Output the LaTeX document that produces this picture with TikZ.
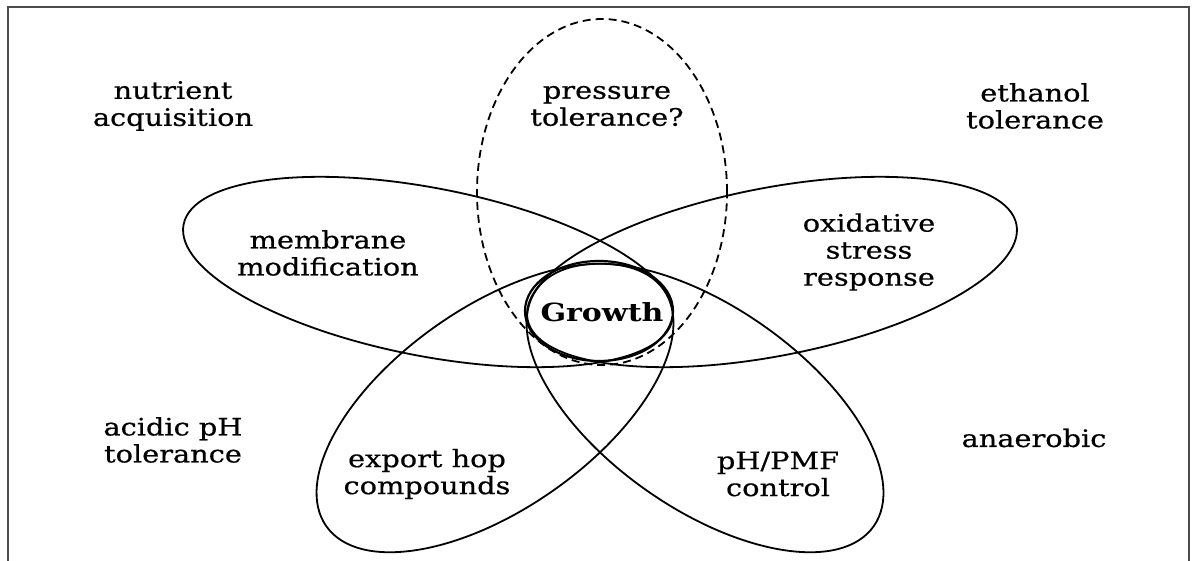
\documentclass[tikz,border=0pt]{standalone}
\usepackage{fontspec}
\setmainfont{DejaVu Serif}[FakeStretch=1.2]
\newfontfamily\lblfont{DejaVu Serif}[FakeStretch=1.2, FakeBold=0.5]
\usetikzlibrary{shapes.geometric}
\tikzset{
  petal/.style={ellipse, draw=black, line width=1.8pt, inner sep=0pt},
  lbl/.style={align=center, font=\lblfont\fontsize{24}{27}\selectfont, text=black},
}
\begin{document}
\begin{tikzpicture}[x=1pt,y=-1pt]
\useasboundingbox[fill=white] (0,0) rectangle (1196,561);
\draw[line width=1.5pt, black!70] (8,561) -- (8,7) -- (1189,7) -- (1189,561);
% petals
\node[petal, dashed, dash pattern=on 8pt off 5pt, minimum width=250pt, minimum height=346pt] (press) at (602,192) {};
\node[petal, minimum width=498pt, minimum height=168pt, rotate=-11] (memb) at (428,272) {};
\node[petal, minimum width=498pt, minimum height=168pt, rotate=11] (oxid) at (772,272) {};
\node[petal, minimum width=412pt, minimum height=202pt, rotate=35] (expo) at (495,408) {};
\node[petal, minimum width=412pt, minimum height=202pt, rotate=-35] (phpmf) at (705,408) {};
\node[petal, line width=2.2pt, minimum width=148pt, minimum height=100pt] (growthE) at (599,311) {};
% labels
\node[font=\fontsize{25}{27}\selectfont\bfseries] (growth) at (602,312) {Growth};
\node[lbl] (tnut) at (173,106) {nutrient\\acquisition};
\node[lbl] (tpress) at (607,106) {pressure\\tolerance?};
\node[lbl] (teth) at (1035,106) {ethanol\\tolerance};
\node[lbl] (tmemb) at (328,253) {membrane\\modification};
\node[lbl] (toxid) at (869,252) {oxidative\\stress\\response};
\node[lbl] (tacid) at (173,440) {acidic pH\\tolerance};
\node[lbl] (tanae) at (1034,438) {anaerobic};
\node[lbl] (texpo) at (427,474) {export hop\\compounds};
\node[lbl] (tph) at (778,474) {pH/PMF\\control};
\end{tikzpicture}
\end{document}
